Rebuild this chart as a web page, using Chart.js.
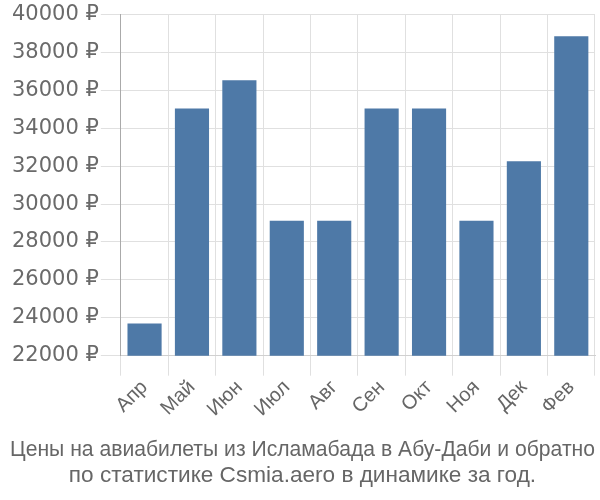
<!DOCTYPE html>
<html>
<head>
<meta charset="utf-8">
<script src="https://cdn.jsdelivr.net/npm/chart.js@4"></script>
<style>
html,body{margin:0;padding:0;background:#fff;}
#wrap{width:600px;height:500px;}
</style>
</head>
<body>
<div id="wrap"><canvas id="c" width="600" height="500"></canvas></div>
<script>
const categories = ['Апр','Май','Июн','Июл','Авг','Сен','Окт','Ноя','Дек','Фев'];
const prices = [23700, 35050, 36530, 29120, 29120, 35050, 35050, 29120, 32260, 38860];
const yMin = 22000, yMax = 40000, yStep = 2000;
const titleLines = ['Цены на авиабилеты из Исламабада в Абу-Даби и обратно', 'по статистике Csmia.aero в динамике за год.'];

const FONT = 'Liberation Sans, Arial, sans-serif';
new Chart(document.getElementById('c'), {
  type: 'bar',
  data: {
    labels: categories,
    datasets: [{
      data: prices,
      backgroundColor: '#4e79a7',
      borderColor: '#4e79a7',
      borderWidth: 0
    }]
  },
  options: {
    responsive: false,
    animation: false,
    devicePixelRatio: 1,
    layout: { padding: { top: 4, right: 5, left: 10, bottom: 0 } },
    plugins: {
      legend: { display: false },
      tooltip: { enabled: false },
      title: {
        display: true,
        position: 'bottom',
        text: titleLines,
        color: '#666',
        font: { family: FONT, size: 22.6, weight: 'normal', lineHeight: 1.12 },
        padding: { top: 16, bottom: 12 }
      }
    },
    scales: {
      x: {
        grid: { color: '#e0e0e0', lineWidth: 1, tickLength: 20, offset: true },
        border: { color: '#d0d0d0' },
        ticks: {
          color: '#666',
          font: { family: FONT, size: 20 },
          maxRotation: 45, minRotation: 45,
          padding: 0
        }
      },
      y: {
        min: yMin, max: yMax,
        grid: { color: '#e0e0e0', lineWidth: 1, tickLength: 20 },
        border: { color: '#aaa' },
        ticks: {
          stepSize: yStep,
          color: '#6a6a6a',
          font: { family: 'DejaVu Sans, ' + FONT, size: 21 },
          padding: 2,
          callback: v => v + ' ₽'
        }
      }
    }
  }
});
</script>
</body>
</html>
